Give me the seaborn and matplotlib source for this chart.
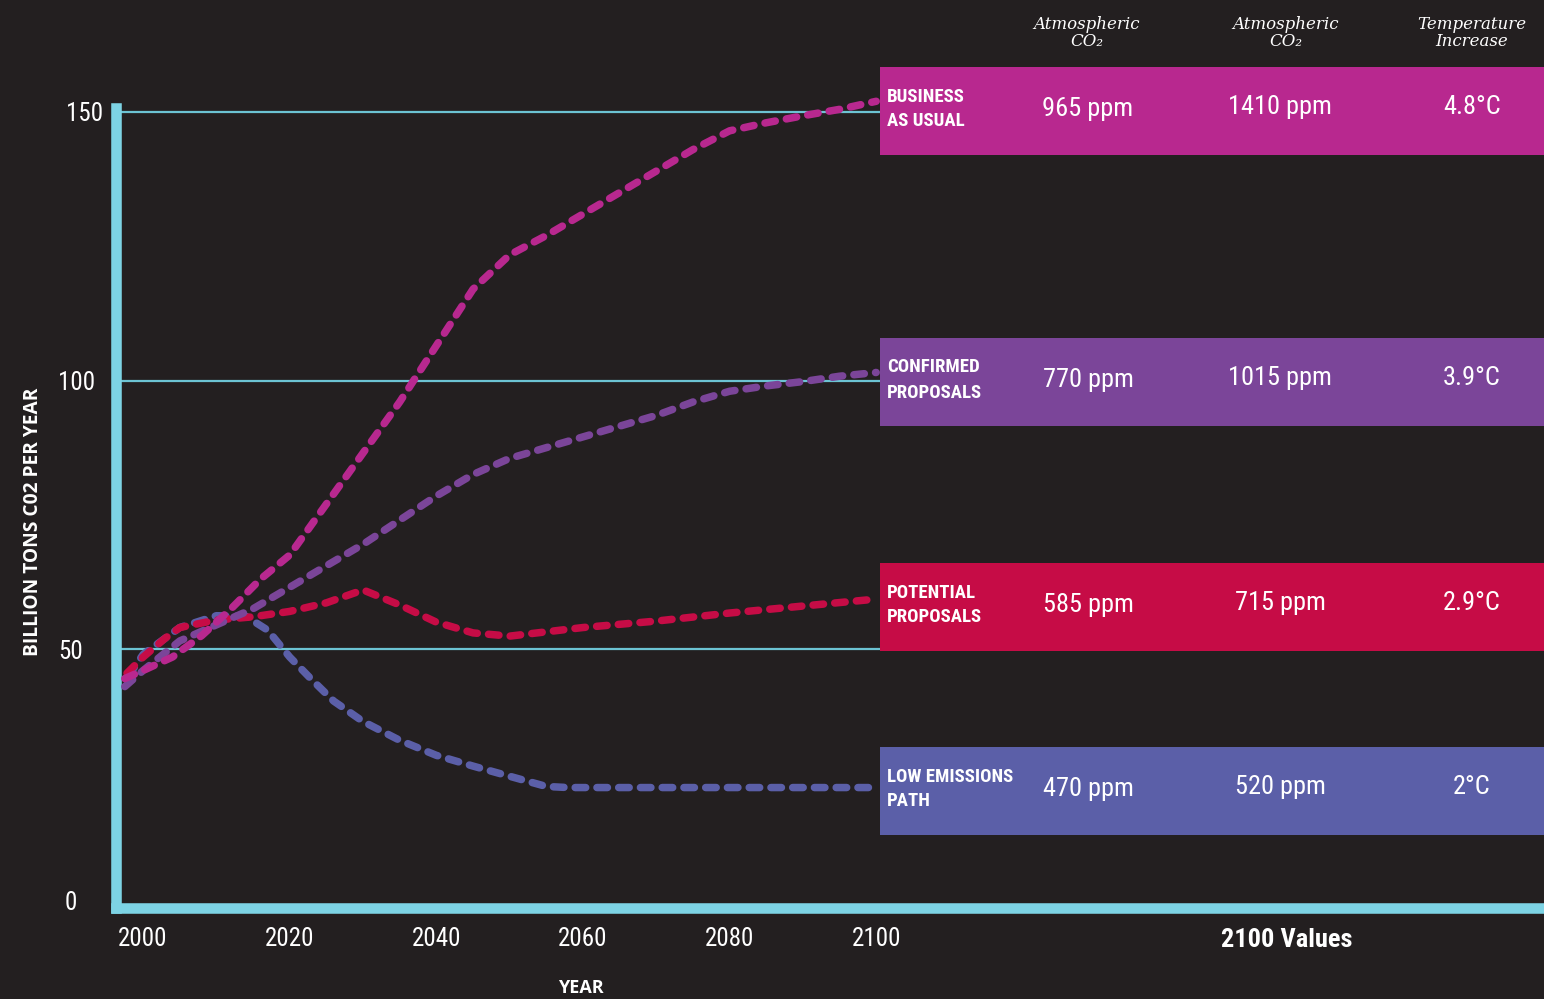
import matplotlib
matplotlib.use("Agg")
import numpy as np
import pandas as pd
import seaborn as sns
import matplotlib.pyplot as plt
from matplotlib import transforms as mtrans
from matplotlib import font_manager as fm
from matplotlib.patches import Rectangle

# ---------------- data ----------------
bau_years = [1997.5, 2000, 2004, 2008, 2012, 2016, 2020, 2025, 2030, 2035, 2040, 2045, 2050,
             2055, 2060, 2065, 2070, 2075, 2080, 2085, 2090, 2095, 2100]
bau_vals = [44.5, 46, 48.5, 52.5, 57.5, 63, 67.5, 77, 86.5, 96, 106.5, 117, 123.4,
            127, 131, 135, 139, 143, 146.5, 148, 149.3, 150.5, 152]

conf_years = [1997.5, 2000, 2005, 2010, 2015, 2020, 2025, 2030, 2035, 2040, 2045, 2050,
              2055, 2060, 2065, 2070, 2075, 2080, 2085, 2090, 2095, 2100]
conf_vals = [43, 46, 51.5, 54.5, 57.5, 61.5, 65.5, 69.5, 74, 78.5, 82.5, 85.5,
             87.5, 89.5, 91.5, 93.5, 96, 98, 99, 99.8, 100.8, 101.5]

pot_years = [1997.8, 2000, 2003, 2005, 2010, 2015, 2020, 2025, 2030, 2035, 2040, 2045, 2050,
             2055, 2060, 2070, 2080, 2090, 2100]
pot_vals = [45.5, 48.5, 52, 54, 55.4, 56, 57, 58.6, 61, 58.2, 55, 53, 52.4,
            53.2, 54, 55.2, 56.7, 58, 59.3]

low_years = [1998, 2000, 2003, 2005, 2010, 2014, 2017, 2020, 2023, 2026, 2030, 2035, 2040,
             2045, 2050, 2055, 2058, 2070, 2080, 2090, 2100]
low_vals = [45, 49, 52, 54, 56.2, 56.1, 53.5, 48.5, 44.3, 40.3, 36.5, 33, 30.2,
            28.2, 26.3, 24.4, 24.2, 24.2, 24.2, 24.2, 24.2]

scenarios = ["BUSINESS\nAS USUAL", "CONFIRMED\nPROPOSALS", "POTENTIAL\nPROPOSALS", "LOW EMISSIONS\nPATH"]
co2_a = ["965 ppm", "770 ppm", "585 ppm", "470 ppm"]
co2_b = ["1410 ppm", "1015 ppm", "715 ppm", "520 ppm"]
temps = ["4.8°C", "3.9°C", "2.9°C", "2°C"]
col_headers = ["Atmospheric\nCO₂", "Atmospheric\nCO₂", "Temperature\nIncrease"]
y_ticks = [0, 50, 100, 150]
x_ticks = [2000, 2020, 2040, 2060, 2080, 2100]

colors = ["#b8288f", "#7b4599", "#c60c46", "#5b5fa8"]
BG = "#231f20"
CYAN = "#7dd3e4"

# ---------------- fonts ----------------
def has_font(name):
    try:
        fm.findfont(fm.FontProperties(family=name), fallback_to_default=False)
        return True
    except Exception:
        return False

COND = next((f for f in ["Liberation Sans Narrow", "Roboto Condensed", "Open Sans Condensed"] if has_font(f)), "Roboto")
SANS_B = "Open Sans" if has_font("Open Sans") else "DejaVu Sans"
SERIF = ["DejaVu Serif"]

sns.set_theme(style="dark", rc={"axes.facecolor": BG, "figure.facecolor": BG})
plt.rcParams["font.family"] = [COND, "DejaVu Sans"]

W, H = 1544, 999
fig = plt.figure(figsize=(W / 100, H / 100), dpi=100)
fig.patch.set_facecolor(BG)

# axes: y=0 at 917.5 px, y=150 at 112 px
Y_BOT_PX, Y_TOP_PX = 917.5, 108
ax = fig.add_axes([116 / W, 1 - Y_BOT_PX / H, 1 - 116 / W, (Y_BOT_PX - Y_TOP_PX) / H])
ax.set_facecolor("none")

XMIN, XMAX = 1996.3, 2191.1
YMAX = 150.75
SPINE_Y = 1.77

# gridlines up to the boxes
ax.hlines([50, 100, 150], XMIN, 2100.5, color="#6cc3d3", lw=1.6, zorder=1)

df = pd.concat([
    pd.DataFrame({"year": bau_years, "val": bau_vals, "s": scenarios[0]}),
    pd.DataFrame({"year": conf_years, "val": conf_vals, "s": scenarios[1]}),
    pd.DataFrame({"year": pot_years, "val": pot_vals, "s": scenarios[2]}),
    pd.DataFrame({"year": low_years, "val": low_vals, "s": scenarios[3]}),
])
sns.lineplot(data=df, x="year", y="val", hue="s", hue_order=scenarios[::-1],
             palette=dict(zip(scenarios, colors)), sort=False, lw=5.4,
             legend=False, ax=ax, zorder=3)
for ln in ax.get_lines():
    ln.set_dashes((1.4, 1.5))
    ln.set_dash_capstyle("round")
    ln.set_solid_capstyle("round")
    ln.set_clip_on(False)

ax.grid(False)
ax.set_xticks(x_ticks)
ax.set_xticklabels([str(t) for t in x_ticks])
ax.set_yticks(y_ticks)
ax.set_yticklabels([str(t) for t in y_ticks])
ax.set_xlim(XMIN, XMAX)
ax.set_ylim(0, YMAX)

# spines
for s in ["top", "right"]:
    ax.spines[s].set_visible(False)
for s in ["left", "bottom"]:
    ax.spines[s].set_color(CYAN)
    ax.spines[s].set_linewidth(7.6)
ax.spines["bottom"].set_position(("data", SPINE_Y))
ax.spines["bottom"].set_capstyle("projecting")
ax.spines["left"].set_bounds(SPINE_Y, YMAX)

ax.tick_params(axis="both", length=0, colors="white", labelsize=18)
ax.tick_params(axis="x", pad=13.5)
ax.tick_params(axis="y", pad=9)
for lab in ax.get_xticklabels() + ax.get_yticklabels():
    lab.set_family([COND, "DejaVu Sans"])
    lab.set_color("white")

# stagger the y tick labels as in the original (dx, dy in px; dy positive = up)
offsets = {0: (-27, 17.5), 50: (-21, 0), 100: (-8, 0), 150: (0, 1)}
for tick, val in zip(ax.yaxis.get_major_ticks(), y_ticks):
    dx, dy = offsets[val]
    lab = tick.label1
    lab.set_transform(lab.get_transform() + mtrans.ScaledTranslation(dx / 100, dy / 100, fig.dpi_scale_trans))

ax.set_xlabel("")
ax.set_ylabel("")

def fx(px):
    return px / W

def fy(py):
    return 1 - py / H

fig.text(fx(33), fy(522), "BILLION TONS C02 PER YEAR", rotation=90, ha="center", va="center",
         color="white", fontsize=13.8, fontweight="bold", family=SANS_B)
fig.text(fx(581), fy(988), "YEAR", ha="center", va="center", color="white",
         fontsize=13, fontweight="bold", family=SANS_B)
fig.text(fx(1287), fy(940), "2100 Values", ha="center", va="center", color="white",
         fontsize=19, fontweight="bold", family=[COND, "DejaVu Sans"])

# column headers
for cx, txt in zip([1087, 1286, 1472], col_headers):
    fig.text(fx(cx), fy(33), txt, ha="center", va="center", color="white", fontsize=12,
             style="italic", family=SERIF, linespacing=1.0)

# boxes
box_tops = [67, 338, 563, 747]
BOX_H = 88
for top, c, name, a, b, t in zip(box_tops, colors, scenarios, co2_a, co2_b, temps):
    fig.add_artist(Rectangle((fx(880), fy(top + BOX_H)), fx(W) - fx(880), BOX_H / H,
                             transform=fig.transFigure, facecolor=c, edgecolor="none", zorder=5))
    cy = top + 42
    fig.text(fx(887), fy(cy), name, ha="left", va="center", color="white", fontsize=13.5,
             fontweight="bold", family=[COND, "DejaVu Sans"], linespacing=1.5, zorder=6)
    fig.text(fx(1088), fy(cy), a, ha="center", va="center", color="white", fontsize=19,
             family=[COND, "DejaVu Sans"], zorder=6)
    fig.text(fx(1280), fy(cy - 2), b, ha="center", va="center", color="white", fontsize=19,
             family=[COND, "DejaVu Sans"], zorder=6)
    fig.text(fx(1472), fy(cy - 2), t, ha="center", va="center", color="white", fontsize=19,
             family=[COND, "DejaVu Sans"], zorder=6)

fig.savefig("out.png", dpi=100, facecolor=BG)
